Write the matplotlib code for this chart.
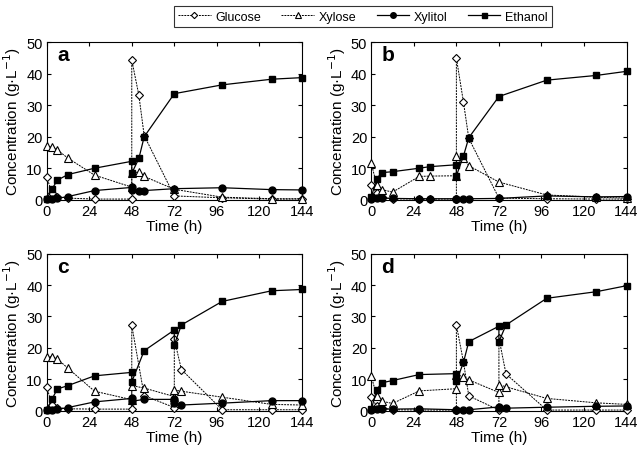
import matplotlib
matplotlib.use('Agg')
import matplotlib.pyplot as plt

plt.rcParams['font.family'] = ['Liberation Sans', 'DejaVu Sans']

# panel a
t_a = [0, 3, 6, 12, 27, 48, 48, 52, 55, 72, 99, 127, 144]
glucose_a = [7.3, 2.0, 1.0, 0.5, 0.2, 0.2, 44.4, 33.2, 20.4, 1.2, 0.6, 0.2, 0.2]
xylose_a = [17.0, 16.7, 15.8, 13.2, 7.8, 4.0, 8.5, 8.8, 7.4, 3.3, 0.8, 0.3, 0.3]
xylitol_a = [0.1, 0.2, 0.4, 1.0, 2.9, 3.9, 3.1, 2.9, 2.9, 3.5, 3.8, 3.2, 3.1]
ethanol_a = [0.2, 3.4, 6.2, 8.0, 10.0, 12.2, 8.4, 13.1, 20.0, 33.7, 36.5, 38.3, 38.8]

# panel b
t_b = [0, 3, 6, 12, 27, 33, 48, 48, 52, 55, 72, 99, 127, 144]
glucose_b = [4.8, 2.0, 0.8, 0.3, 0.2, 0.2, 0.2, 45.0, 31.0, 19.5, 0.5, 0.3, 0.2, 0.2]
xylose_b = [11.6, 4.7, 3.2, 2.4, 7.4, 7.5, 7.6, 13.8, 13.4, 10.8, 5.6, 1.5, 0.8, 0.5]
xylitol_b = [0.3, 0.6, 0.5, 0.4, 0.3, 0.3, 0.3, 0.3, 0.3, 0.3, 0.4, 1.2, 0.9, 1.0]
ethanol_b = [0.8, 6.7, 8.6, 8.9, 10.0, 10.5, 11.1, 7.6, 13.9, 19.7, 32.8, 38.0, 39.5, 40.8]

# panel c
t_c = [0, 3, 6, 12, 27, 48, 48, 55, 72, 72, 76, 99, 127, 144]
glucose_c = [7.6, 1.8, 1.0, 0.6, 0.5, 0.5, 27.2, 4.8, 1.0, 22.8, 13.1, 0.3, 0.3, 0.3]
xylose_c = [17.2, 17.2, 16.5, 13.5, 6.2, 3.5, 8.0, 7.2, 4.5, 6.6, 6.2, 4.3, 2.0, 1.8]
xylitol_c = [0.1, 0.2, 0.4, 1.0, 2.8, 3.9, 3.0, 3.6, 3.6, 2.6, 1.8, 2.4, 3.2, 3.2]
ethanol_c = [0.2, 3.7, 6.9, 8.0, 11.1, 12.2, 9.2, 19.1, 25.7, 21.0, 27.3, 34.8, 38.2, 38.6]

# panel d
t_d = [0, 3, 6, 12, 27, 48, 48, 52, 55, 72, 72, 76, 99, 127, 144]
glucose_d = [4.2, 1.5, 0.8, 0.3, 0.2, 0.2, 27.3, 15.5, 4.7, 0.2, 23.1, 11.7, 0.2, 0.2, 0.2]
xylose_d = [11.0, 4.7, 3.0, 2.3, 6.3, 7.0, 11.5, 10.8, 9.8, 5.8, 8.3, 7.6, 3.9, 2.5, 2.0]
xylitol_d = [0.3, 0.6, 0.6, 0.5, 0.6, 0.3, 0.3, 0.3, 0.3, 1.2, 0.8, 0.8, 1.1, 1.4, 1.5]
ethanol_d = [0.4, 6.7, 8.9, 9.6, 11.5, 11.8, 9.3, 15.4, 22.0, 26.9, 22.0, 27.3, 35.8, 37.9, 39.8]

panels = [
    ('a', t_a, glucose_a, xylose_a, xylitol_a, ethanol_a),
    ('b', t_b, glucose_b, xylose_b, xylitol_b, ethanol_b),
    ('c', t_c, glucose_c, xylose_c, xylitol_c, ethanol_c),
    ('d', t_d, glucose_d, xylose_d, xylitol_d, ethanol_d),
]

xticks = [0, 24, 48, 72, 96, 120, 144]
yticks = [0, 10, 20, 30, 40, 50]

fig = plt.figure(figsize=(6.38, 4.52), dpi=100)
boxes = [
    [0.0732, 0.556, 0.400, 0.348],
    [0.582, 0.556, 0.400, 0.348],
    [0.0732, 0.0892, 0.400, 0.3473],
    [0.582, 0.0892, 0.400, 0.3473],
]

handles = None
for box, (letter, t, glu, xyl, xol, eth) in zip(boxes, panels):
    ax = fig.add_axes(box)
    h1, = ax.plot(t, glu, color='black', lw=0.7, ls=(0, (2, 1)), marker='D',
                  ms=4, mfc='white', mec='black', mew=0.8, clip_on=False, zorder=3)
    h2, = ax.plot(t, xyl, color='black', lw=0.7, ls=(0, (2, 1)), marker='^',
                  ms=5.5, mfc='white', mec='black', mew=0.8, clip_on=False, zorder=3)
    h3, = ax.plot(t, xol, color='black', lw=0.9, marker='o',
                  ms=5, mfc='black', mec='black', clip_on=False, zorder=4)
    h4, = ax.plot(t, eth, color='black', lw=0.9, marker='s',
                  ms=4.5, mfc='black', mec='black', clip_on=False, zorder=4)
    handles = [h1, h2, h3, h4]
    ax.set_xlim(0, 144)
    ax.set_ylim(0, 50)
    ax.set_xticks(xticks)
    ax.set_yticks(yticks)
    ax.tick_params(direction='in', top=True, right=True, labelsize=10.5, length=3, pad=3)
    ax.set_xlabel('Time (h)', fontsize=11, labelpad=1)
    ax.set_ylabel('Concentration (g·L$^{-1}$)', fontsize=11, labelpad=2)
    ax.text(0.04, 0.92, letter, transform=ax.transAxes, fontsize=15,
            fontweight='bold', ha='left', va='center')

leg = fig.legend(handles, ['Glucose', 'Xylose', 'Xylitol', 'Ethanol'],
                 loc='upper center', bbox_to_anchor=(0.569, 0.998), ncol=4,
                 frameon=True, fancybox=False, edgecolor='black', fontsize=9,
                 handlelength=2.6, columnspacing=1.6, borderpad=0.35,
                 handletextpad=0.4, markerscale=0.8)
leg.get_frame().set_linewidth(0.8)

fig.savefig('out.png', dpi=100)
